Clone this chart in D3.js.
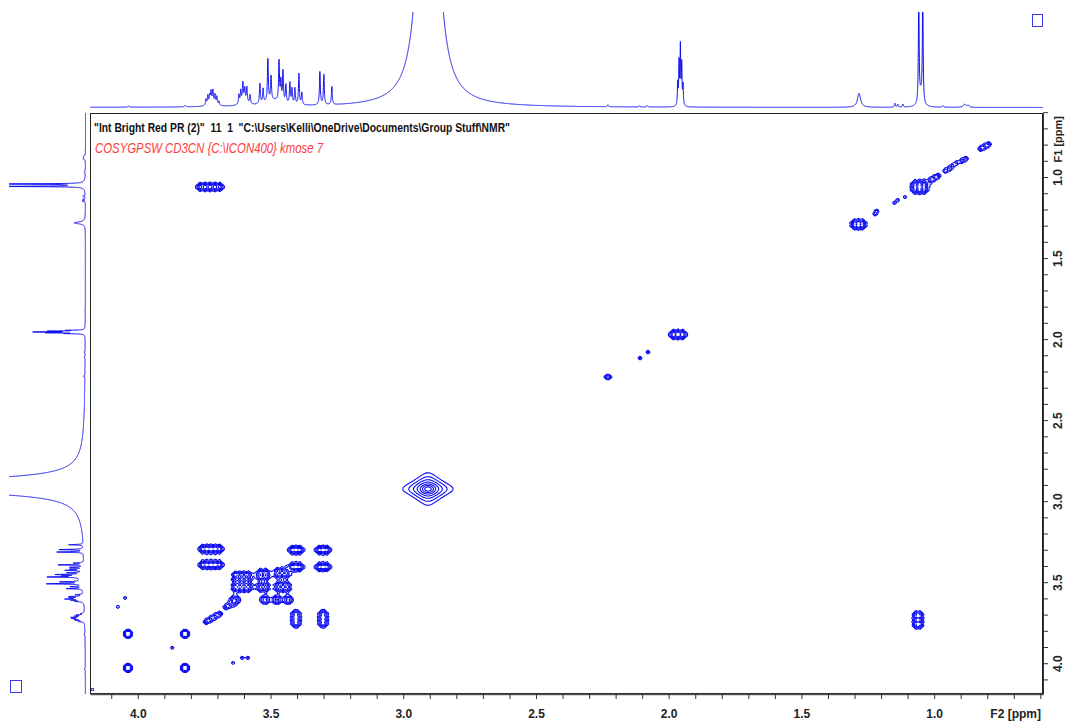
<!DOCTYPE html>
<html>
<head>
<meta charset="utf-8">
<script src="https://cdn.jsdelivr.net/npm/d3@7"></script>
<style>
  body { margin: 0; background: #fff; }
  svg { display: block; }
</style>
</head>
<body>
<svg id="chart" width="1066" height="721"></svg>
<script>
// ---------- axis ranges and ticks (ppm) ----------
const f2Domain = [4.18, 0.59];     // horizontal (F2), high ppm on the left
const f1Domain = [0.605, 4.19];    // vertical (F1), low ppm at the top
const labelTicks = [4.0, 3.5, 3.0, 2.5, 2.0, 1.5, 1.0];
const allTicks = [0.6, 0.7, 0.8, 0.9, 1.0, 1.1, 1.2, 1.3, 1.4, 1.5, 1.6, 1.7, 1.8, 1.9,
                  2.0, 2.1, 2.2, 2.3, 2.4, 2.5, 2.6, 2.7, 2.8, 2.9, 3.0, 3.1, 3.2, 3.3,
                  3.4, 3.5, 3.6, 3.7, 3.8, 3.9, 4.0, 4.1];
const f2Title = "F2 [ppm]";
const f1Title = "F1 [ppm]";
const titleLine = '"Int Bright Red PR (2)"  11  1  "C:\\Users\\Kelli\\OneDrive\\Documents\\Group Stuff\\NMR"';
const pulseLine = "COSYGPSW CD3CN {C:\\ICON400} kmose 7";

// ---------- 1D reference spectrum: [ppm, intensity, half-width ppm] ----------
const solventLines = [
  [2.906, 875, 0.02],                       // residual water
  [1.966, 22, 0.0015], [1.961, 42, 0.0015], [1.956, 58, 0.0015],
  [1.951, 40, 0.0015], [1.946, 20, 0.0015]  // CHD2CN quintet
];
const aliphaticLines = [
  [1.283, 14, 0.007],
  [1.058, 105, 0.0017], [1.043, 105, 0.0017], [1.05, 12, 0.008],
  [1.148, 4, 0.002], [1.137, 3, 0.002], [1.118, 3, 0.002],
  [0.967, 1.5, 0.003], [0.885, 3, 0.006], [0.872, 2, 0.004],
  [2.229, 2, 0.002], [2.08, 1.5, 0.002], [2.11, 1.2, 0.002]
];
const sugarLines = [
  [3.743, 6, 0.002], [3.736, 9, 0.002], [3.729, 8, 0.002], [3.724, 11, 0.002],
  [3.717, 12, 0.002], [3.709, 9, 0.002], [3.702, 8, 0.002], [3.694, 4, 0.002],
  [3.72, 4, 0.015],
  [3.619, 9, 0.002], [3.612, 12, 0.002], [3.604, 18, 0.002], [3.597, 12, 0.002],
  [3.589, 15, 0.002], [3.577, 9, 0.002], [3.60, 5, 0.015],
  [3.540, 20, 0.002], [3.528, 14, 0.002], [3.510, 42, 0.002], [3.498, 24, 0.002],
  [3.468, 40, 0.002], [3.461, 20, 0.002], [3.453, 31, 0.002], [3.442, 18, 0.002],
  [3.427, 21, 0.002], [3.419, 15, 0.002], [3.408, 16, 0.002], [3.393, 31, 0.002],
  [3.382, 12, 0.002], [3.49, 6, 0.04],
  [3.314, 33, 0.002], [3.299, 30, 0.002], [3.269, 18, 0.002],
  [3.822, 1.5, 0.003], [4.035, 1.2, 0.003]
];

// ---------- 2D COSY peaks ----------
// [F2 ppm, F1 ppm, height, lines in F2, lines in F1, multiplet width F2, multiplet width F1, diagonal chain]
const lwF2 = 0.0065, lwF1 = 0.0095;
const diagonalPeaks = [
  [0.81, 0.812, 3.5, 3, 3, 0.03, 0.03, 1],
  [0.888, 0.893, 3, 2, 2, 0.015, 0.015, 1],
  [0.915, 0.913, 2.2, 1, 1, 0, 0, 0],
  [0.93, 0.93, 2.2, 1, 1, 0, 0, 0],
  [0.95, 0.955, 3, 2, 2, 0.015, 0.015, 1],
  [1.0, 1.007, 3.5, 3, 3, 0.03, 0.03, 1],
  [1.055, 1.062, 5, 3, 3, 0.035, 0.04, 0],
  [1.11, 1.123, 1.8, 1, 1, 0, 0, 0],
  [1.137, 1.142, 1.8, 1, 1, 0, 0, 0],
  [1.15, 1.16, 1.8, 1, 1, 0, 0, 0],
  [1.216, 1.21, 2.2, 1, 1, 0, 0, 0],
  [1.223, 1.228, 2.2, 1, 1, 0, 0, 0],
  [1.285, 1.292, 5, 3, 2, 0.03, 0.02, 0],
  [1.965, 1.972, 5, 3, 2, 0.035, 0.015, 0],
  [2.078, 2.08, 2.2, 1, 1, 0, 0, 0],
  [2.108, 2.117, 2.2, 1, 1, 0, 0, 0],
  [2.229, 2.234, 2.8, 2, 1, 0.008, 0, 0],
  [3.302, 3.301, 4, 3, 2, 0.03, 0.012, 0],
  [3.404, 3.406, 4, 3, 2, 0.03, 0.012, 0],
  [3.457, 3.443, 4, 3, 2, 0.035, 0.025, 0],
  [3.528, 3.529, 4, 2, 2, 0.02, 0.025, 0],
  [3.653, 3.64, 3.5, 3, 3, 0.03, 0.03, 1],
  [3.717, 3.72, 4, 4, 4, 0.05, 0.05, 1],
  [3.822, 3.819, 2.8, 2, 2, 0.01, 0.018, 0],
  [4.037, 4.029, 2.8, 2, 2, 0.01, 0.018, 0],
  [3.87, 3.905, 1.8, 1, 1, 0, 0, 0]
];
const crossPeaks = [
  [3.728, 1.061, 4, 5, 2, 0.075, 0.012, 0],
  [1.061, 3.733, 4, 2, 4, 0.015, 0.07, 0],
  [3.724, 3.295, 4, 5, 2, 0.065, 0.012, 0],
  [3.724, 3.393, 4, 5, 2, 0.065, 0.012, 0],
  [3.404, 3.301, 4, 3, 2, 0.03, 0.012, 0],
  [3.302, 3.406, 4, 3, 2, 0.03, 0.012, 0],
  [3.608, 3.468, 4, 4, 2, 0.05, 0.03, 0],
  [3.528, 3.455, 5, 2, 3, 0.02, 0.03, 0],
  [3.453, 3.529, 4, 3, 2, 0.035, 0.025, 0],
  [3.608, 3.529, 4, 4, 2, 0.05, 0.025, 0],
  [3.634, 3.609, 3, 2, 2, 0.012, 0.015, 0],
  [3.521, 3.609, 3, 2, 2, 0.012, 0.015, 0],
  [3.476, 3.609, 3, 2, 2, 0.012, 0.015, 0],
  [3.434, 3.609, 3, 2, 2, 0.012, 0.015, 0],
  [3.404, 3.726, 4, 2, 4, 0.01, 0.065, 0],
  [3.302, 3.726, 4, 2, 4, 0.01, 0.065, 0],
  [4.037, 3.819, 2.8, 2, 2, 0.01, 0.018, 0],
  [3.822, 4.029, 2.8, 2, 2, 0.01, 0.018, 0],
  [3.641, 3.998, 1.8, 1, 1, 0, 0, 0],
  [3.607, 3.967, 1.8, 1, 1, 0, 0, 0],
  [3.585, 3.967, 1.8, 1, 1, 0, 0, 0],
  [4.075, 3.652, 1.8, 1, 1, 0, 0, 0],
  [4.048, 3.597, 1.8, 1, 1, 0, 0, 0]
];
// residual water on the diagonal: [F2 ppm, F1 ppm, height, lw F2, lw F1]
const waterPeak = [2.907, 2.925, 40, 0.0152, 0.016];
const contourLevels = [1, 1.7, 2.9, 4.9, 8.4, 14, 24];

// ---------- layout ----------
const plot = { left: 90, right: 1043, top: 113, bottom: 694 };
const traceBlue = "#0a0af0";
const axisFont = "'Liberation Sans Narrow', 'Arial Narrow', 'Liberation Sans', Arial, sans-serif";

const svg = d3.select("#chart");
const x = d3.scaleLinear().domain(f2Domain).range([plot.left, plot.right]);
const y = d3.scaleLinear().domain(f1Domain).range([plot.top, plot.bottom]);

// intensity scales for the projections
const topI = d3.scaleLinear().domain([0, 95]).range([107.5, 12.5]);
const leftI = d3.scaleLinear().domain([0, 95]).range([85.5, 9.5]);

const defs = svg.append("defs");
defs.append("clipPath").attr("id", "clipTop")
  .append("rect").attr("x", plot.left).attr("y", 12).attr("width", plot.right - plot.left).attr("height", 100);
defs.append("clipPath").attr("id", "clipLeft")
  .append("rect").attr("x", 9).attr("y", plot.top).attr("width", 80).attr("height", plot.bottom - plot.top);
defs.append("clipPath").attr("id", "clipPlot")
  .append("rect").attr("x", plot.left).attr("y", plot.top).attr("width", plot.right - plot.left).attr("height", plot.bottom - plot.top);

// ---------- 1D traces ----------
const lines1D = solventLines.concat(aliphaticLines, sugarLines);
function intensityAt(ppm) {
  let s = 0;
  for (const [p, a, w] of lines1D) { const d = ppm - p; s += a * w * w / (w * w + d * d); }
  return s;
}
const stepPpm = 0.0002;
const topTrace = d3.range(f2Domain[1], f2Domain[0] + stepPpm / 2, stepPpm).map(p => [p, intensityAt(p)]);
const leftTrace = d3.range(f1Domain[0], f1Domain[1] + stepPpm / 2, stepPpm).map(p => [p, intensityAt(p)]);

svg.append("path")
  .attr("clip-path", "url(#clipTop)")
  .attr("d", d3.line().x(d => x(d[0])).y(d => topI(d[1]))(topTrace))
  .attr("fill", "none").attr("stroke", traceBlue).attr("stroke-width", 1);

svg.append("path")
  .attr("clip-path", "url(#clipLeft)")
  .attr("d", d3.line().x(d => leftI(d[1])).y(d => y(d[0]))(leftTrace))
  .attr("fill", "none").attr("stroke", traceBlue).attr("stroke-width", 1);

// ---------- 2D contour map ----------
const nx = 958, ny = 584;
const dx = (f2Domain[1] - f2Domain[0]) / nx;   // ppm per cell (negative)
const dy = (f1Domain[1] - f1Domain[0]) / ny;
const grid = new Float64Array(nx * ny);

// accumulate one line shape into the grid; k blends an elliptical core (0) with a cross-shaped product (1)
function addComponent(c2, c1, amp, w2, w1, k) {
  const wx = w2 / Math.abs(dx), wy = w1 / dy;
  const U = Math.sqrt(amp / 0.05);
  const cx = (c2 - f2Domain[0]) / dx - 0.5;
  const cy = (c1 - f1Domain[0]) / dy - 0.5;
  const j0 = Math.max(0, Math.floor(cy - U * wy)), j1 = Math.min(ny - 1, Math.ceil(cy + U * wy));
  const i0 = Math.max(0, Math.floor(cx - U * wx)), i1 = Math.min(nx - 1, Math.ceil(cx + U * wx));
  for (let j = j0; j <= j1; j++) {
    const v2 = ((j - cy) / wy) ** 2;
    const base = j * nx;
    for (let i = i0; i <= i1; i++) {
      const u2 = ((i - cx) / wx) ** 2;
      grid[base + i] += amp / (1 + u2 + v2 + k * u2 * v2);
    }
  }
}

function addMultiplet(row) {
  const [f2, f1, amp, n2, n1, s2, s1, diag] = row;
  if (diag) {
    for (let i = 0; i < n2; i++) {
      const t = n2 > 1 ? i / (n2 - 1) - 0.5 : 0;
      addComponent(f2 + t * s2, f1 + t * s1, amp, lwF2, lwF1, 1);
    }
  } else {
    for (let i = 0; i < n2; i++) for (let j = 0; j < n1; j++) {
      const t2 = n2 > 1 ? i / (n2 - 1) - 0.5 : 0;
      const t1 = n1 > 1 ? j / (n1 - 1) - 0.5 : 0;
      addComponent(f2 + t2 * s2, f1 + t1 * s1, amp, lwF2, lwF1, 1);
    }
  }
}
diagonalPeaks.forEach(addMultiplet);
crossPeaks.forEach(addMultiplet);
addComponent(waterPeak[0], waterPeak[1], waterPeak[2], waterPeak[3], waterPeak[4], 0.12);

const contours = d3.contours().size([nx, ny]).thresholds(contourLevels)(grid);
const toChart = d3.geoTransform({
  point: function (gx, gy) {
    this.stream.point(x(f2Domain[0] + gx * dx), y(f1Domain[0] + gy * dy));
  }
});
const contourPath = d3.geoPath(toChart);
svg.append("g").attr("clip-path", "url(#clipPlot)")
  .selectAll("path").data(contours).join("path")
  .attr("d", contourPath)
  .attr("fill", "none").attr("stroke", traceBlue).attr("stroke-width", 1.1);

// ---------- frame and axes ----------
svg.append("rect")
  .attr("x", plot.left + 0.5).attr("y", plot.top + 0.5)
  .attr("width", plot.right - plot.left - 1).attr("height", plot.bottom - plot.top - 1)
  .attr("fill", "none").attr("stroke", "#222").attr("stroke-width", 1);

const fmt = d => labelTicks.some(t => Math.abs(t - d) < 1e-6) ? d.toFixed(1) : "";

const xAxis = svg.append("g").attr("transform", `translate(0,${plot.bottom})`)
  .call(d3.axisBottom(x).tickValues(allTicks).tickSize(5).tickSizeOuter(0).tickPadding(10).tickFormat(fmt));
xAxis.select(".domain").attr("stroke", "#555").attr("stroke-width", 1.5);
xAxis.selectAll(".tick line").attr("stroke", "#333");
xAxis.selectAll(".tick text").attr("fill", "#222")
  .style("font-family", axisFont).style("font-weight", "bold").style("font-size", "12px");
xAxis.append("text").attr("x", plot.right - 2).attr("y", 24)
  .attr("text-anchor", "end").attr("fill", "#222")
  .style("font-family", axisFont).style("font-weight", "bold").style("font-size", "12px")
  .text(f2Title);

const yAxis = svg.append("g").attr("transform", `translate(${plot.right},0)`)
  .call(d3.axisRight(y).tickValues(allTicks).tickSize(5).tickSizeOuter(0).tickFormat(fmt));
yAxis.select(".domain").attr("stroke", "#333");
yAxis.selectAll(".tick line").attr("stroke", "#333");
yAxis.selectAll(".tick text")
  .attr("x", null).attr("dy", null)
  .attr("transform", "translate(19,0) rotate(-90)")
  .attr("text-anchor", "middle").attr("fill", "#222")
  .style("font-family", axisFont).style("font-weight", "bold").style("font-size", "12px");
yAxis.append("text")
  .attr("transform", `translate(19,${plot.top + 3}) rotate(-90)`)
  .attr("text-anchor", "end").attr("fill", "#222")
  .style("font-family", axisFont).style("font-weight", "bold").style("font-size", "11px")
  .text(f1Title);

// ---------- header texts ----------
svg.append("text")
  .attr("x", 94).attr("y", 132)
  .attr("textLength", 416).attr("lengthAdjust", "spacingAndGlyphs")
  .style("white-space", "pre").attr("fill", "#111")
  .style("font-family", axisFont).style("font-weight", "bold").style("font-size", "13.5px")
  .text(titleLine);
svg.append("text")
  .attr("x", 95).attr("y", 153)
  .attr("textLength", 228).attr("lengthAdjust", "spacingAndGlyphs")
  .style("white-space", "pre").attr("fill", "#ff3c3c")
  .style("font-family", axisFont).style("font-style", "italic").style("font-size", "14px")
  .text(pulseLine);

// ---------- window markers ----------
svg.append("rect").attr("x", 1032.5).attr("y", 14.5).attr("width", 10).attr("height", 12)
  .attr("fill", "none").attr("stroke", "#3a3aee").attr("stroke-width", 1);
svg.append("rect").attr("x", 10.5).attr("y", 680.5).attr("width", 11).attr("height", 12)
  .attr("fill", "none").attr("stroke", "#3a3aee").attr("stroke-width", 1);
svg.append("rect").attr("x", 91.5).attr("y", 688.5).attr("width", 2).attr("height", 2)
  .attr("fill", "none").attr("stroke", "#3a3aee").attr("stroke-width", 1);
</script>
</body>
</html>
